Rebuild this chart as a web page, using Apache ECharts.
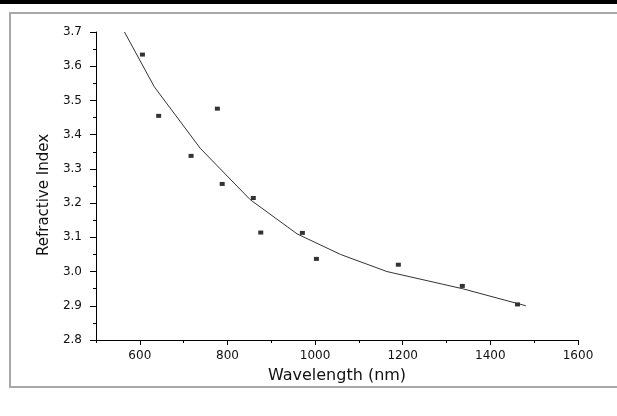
<!DOCTYPE html>
<html>
<head>
<meta charset="utf-8">
<script src="https://cdn.jsdelivr.net/npm/echarts@6/dist/echarts.min.js"></script>
<style>
  html, body { margin: 0; padding: 0; background: #fff; }
  #chart { width: 617px; height: 416px; }
</style>
</head>
<body>
<div id="chart"></div>
<script>
// measured points
const wavelength = [606, 643, 717, 777, 788, 859, 876, 971, 1003, 1190, 1336, 1462]
const refIndex = [3.634, 3.455, 3.338, 3.476, 3.256, 3.215, 3.114, 3.113, 3.037, 3.020, 2.958, 2.904]

// fitted curve
const fitWavelength = [565, 633, 738, 852, 959, 1058, 1164, 1336, 1481]
const fitIndex = [3.70, 3.54, 3.36, 3.21, 3.11, 3.05, 3.00, 2.95, 2.90]

const xMajorTicks = [600, 800, 1000, 1200, 1400, 1600]

const font = 'DejaVu Sans'
const chart = echarts.init(document.getElementById('chart'))

chart.setOption({
  animation: false,
  backgroundColor: '#fff',
  grid: { left: 96, right: 39, top: 32, bottom: 76 },
  graphic: [
    { type: 'rect', shape: { x: 0, y: 0, width: 617, height: 4 }, style: { fill: '#000' }, silent: true },
    { type: 'rect', shape: { x: 10, y: 13, width: 620, height: 374 }, style: { fill: 'none', stroke: '#a8a8a8', lineWidth: 2 }, silent: true }
  ],
  xAxis: [
    {
      type: 'value',
      min: 500,
      max: 1600,
      interval: 100,
      splitLine: { show: false },
      axisLine: { onZero: false, lineStyle: { color: '#000', width: 1 } },
      axisTick: { length: 3, lineStyle: { color: '#000' } },
      axisLabel: { show: false },
      name: 'Wavelength (nm)',
      nameLocation: 'middle',
      nameGap: 28,
      nameTextStyle: { fontFamily: font, fontSize: 16, color: '#111' }
    },
    {
      type: 'value',
      position: 'bottom',
      min: 500,
      max: 1600,
      splitLine: { show: false },
      axisLine: { show: false },
      axisTick: { customValues: xMajorTicks, length: 5, lineStyle: { color: '#000' } },
      axisLabel: { customValues: xMajorTicks, margin: 10, fontFamily: font, fontSize: 12, color: '#111', formatter: v => String(v) }
    }
  ],
  yAxis: {
    type: 'value',
    min: 2.8,
    max: 3.7,
    interval: 0.1,
    splitLine: { show: false },
    axisLine: { onZero: false, lineStyle: { color: '#000', width: 1 } },
    axisTick: { length: 6, lineStyle: { color: '#000' } },
    minorTick: { show: true, splitNumber: 2, length: 3, lineStyle: { color: '#000' } },
    axisLabel: { margin: 14, fontFamily: font, fontSize: 12, color: '#111', formatter: v => v.toFixed(1) },
    name: 'Refractive Index',
    nameLocation: 'middle',
    nameGap: 38,
    nameTextStyle: { fontFamily: font, fontSize: 15, color: '#111', padding: [0, 18, 0, 0] }
  },
  series: [
    {
      type: 'line',
      xAxisIndex: 0,
      data: fitWavelength.map((w, i) => [w, fitIndex[i]]),
      showSymbol: false,
      lineStyle: { color: '#333', width: 1 },
      silent: true
    },
    {
      type: 'scatter',
      xAxisIndex: 0,
      data: wavelength.map((w, i) => [w, refIndex[i]]),
      symbol: 'rect',
      symbolSize: [5, 4],
      itemStyle: { color: '#000' }
    }
  ]
})
</script>
</body>
</html>
